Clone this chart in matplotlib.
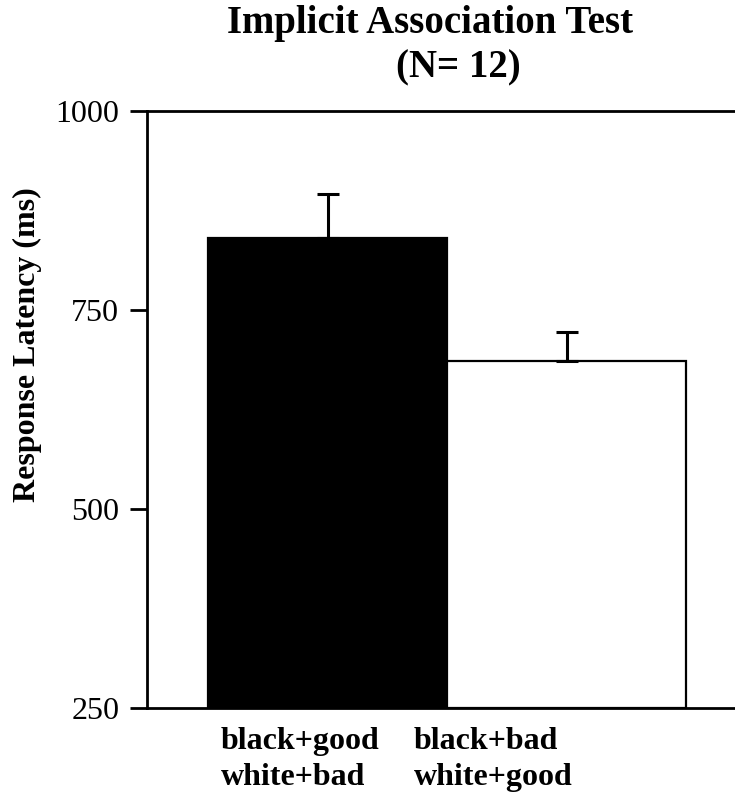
import matplotlib
matplotlib.use("Agg")
import matplotlib.pyplot as plt

# values
conditions = ["black+good\nwhite+bad", "black+bad\nwhite+good"]
latency = [840, 686]
sem = [55, 36]
bar_colors = ["black", "white"]
yticks = [250, 500, 750, 1000]

plt.rcParams["font.family"] = ["Liberation Serif", "DejaVu Serif"]

fig = plt.figure(figsize=(7.35, 7.97), dpi=100)
ax = fig.add_axes([0.2, 0.1117, 0.8, 0.7494])

x = [0, 1]
ax.bar(x, [v - 250 for v in latency], bottom=250, width=1.0,
       color=bar_colors, edgecolor="black", linewidth=1.6, zorder=2)
ax.errorbar(x, latency, yerr=[[0, 0], sem], fmt="none", ecolor="black",
            elinewidth=2.2, capsize=8, capthick=2.2, zorder=3)

ax.set_xlim(-0.757, 1.703)
ax.set_ylim(250, 1000)
ax.set_yticks(yticks)
ax.set_yticklabels([str(t) for t in yticks], fontsize=23)
ax.tick_params(axis="y", direction="out", length=12, width=2, pad=8)

# category labels sit left-aligned, not centred on bars
ax.set_xticks([-0.448, 0.36])
ax.set_xticklabels(conditions, fontsize=23, fontweight="bold",
                   ha="left", multialignment="left", linespacing=1.3)
ax.tick_params(axis="x", length=0, pad=14)

for side in ["left", "top", "bottom"]:
    ax.spines[side].set_linewidth(2)
ax.spines["right"].set_visible(False)

ax.set_ylabel("Response Latency (ms)", fontsize=23, fontweight="bold")
ax.yaxis.set_label_coords(-0.179, 0.608)

fig.text(430 / 735, 1 - 33 / 797, "Implicit Association Test", fontsize=28,
         fontweight="bold", ha="center", va="baseline")
fig.text(458 / 735, 1 - 77 / 797, "(N= 12)", fontsize=28,
         fontweight="bold", ha="center", va="baseline")

fig.savefig("out.png", dpi=100)
